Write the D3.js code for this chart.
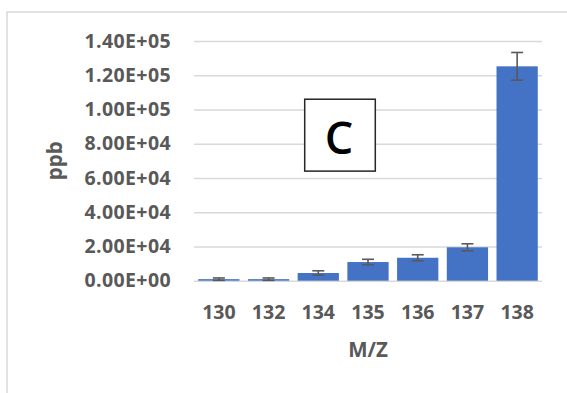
<!DOCTYPE html>
<html>
<head>
<meta charset="utf-8">
<script src="https://cdn.jsdelivr.net/npm/d3@7"></script>
<style>
  body { margin: 0; background: #fff; }
  text { font-family: "Open Sans", sans-serif; }
</style>
</head>
<body>
<div id="chart"></div>
<script>
var categories = ["130", "132", "134", "135", "136", "137", "138"];
var values = [900, 900, 4500, 10900, 13400, 19500, 125200];
var errors = [700, 700, 1300, 1600, 1750, 2050, 8100];
var yTicks = [0, 20000, 40000, 60000, 80000, 100000, 120000, 140000];
var panelLabel = "C";

var width = 567;
var height = 393;
var margin = {top: 41, right: 25, bottom: 112.3, left: 194};

var data = categories.map(function(c, i) {
  return {cat: c, value: values[i], err: errors[i]};
});

var xScale = d3.scaleBand()
  .domain(categories)
  .range([margin.left, width - margin.right])
  .paddingInner(0.17)
  .paddingOuter(0.085);

var yScale = d3.scaleLinear()
  .domain([0, 140000])
  .range([height - margin.bottom, margin.top]);

function sci(v) {
  if (v === 0) return "0.00E+00";
  var e = Math.floor(Math.log10(v));
  var m = v / Math.pow(10, e);
  return m.toFixed(2) + "E+" + (e < 10 ? "0" : "") + e;
}

var svg = d3.select("#chart")
  .append("svg")
    .attr("width", width)
    .attr("height", height);

// outer frame
svg.append("rect")
  .attr("x", 7)
  .attr("y", 12)
  .attr("width", 600)
  .attr("height", 420)
  .attr("fill", "none")
  .attr("stroke", "#d9d9d9")
  .attr("stroke-width", 1.5);

var yAxis = d3.axisLeft(yScale)
  .tickValues(yTicks)
  .tickFormat(sci)
  .tickSize(-(width - margin.left - margin.right))
  .tickPadding(23);

var gy = svg.append("g")
  .attr("transform", "translate(" + margin.left + ",0)")
  .call(yAxis);
gy.select(".domain").remove();
gy.selectAll(".tick line")
  .attr("stroke", "#d9d9d9")
  .attr("stroke-width", 1.4);
gy.selectAll(".tick text")
  .attr("fill", "#595959")
  .attr("font-size", 19.5)
  .attr("font-weight", 700)
  .attr("letter-spacing", 0.4);

var xAxis = d3.axisBottom(xScale).tickSize(0).tickPadding(24);
var gx = svg.append("g")
  .attr("transform", "translate(0," + yScale(0) + ")")
  .call(xAxis);
gx.select(".domain").remove();
gx.selectAll(".tick text")
  .attr("fill", "#595959")
  .attr("font-size", 19.5)
  .attr("font-weight", 700);

// bars
svg.append("g").selectAll("rect")
  .data(data)
  .enter().append("rect")
    .attr("x", function(d) { return xScale(d.cat); })
    .attr("y", function(d) { return yScale(d.value); })
    .attr("width", xScale.bandwidth())
    .attr("height", function(d) { return yScale(0) - yScale(d.value); })
    .attr("fill", "#4472c4");

// error bars
var eb = svg.append("g")
  .attr("stroke", "#595959")
  .attr("stroke-width", 1.6)
  .selectAll("g")
  .data(data)
  .enter().append("g")
    .attr("transform", function(d) { return "translate(" + (xScale(d.cat) + xScale.bandwidth() / 2) + ",0)"; });
eb.append("line")
  .attr("y1", function(d) { return yScale(d.value + d.err); })
  .attr("y2", function(d) { return yScale(Math.max(0, d.value - d.err)); });
eb.append("line")
  .attr("x1", -6).attr("x2", 6)
  .attr("y1", function(d) { return yScale(d.value + d.err); })
  .attr("y2", function(d) { return yScale(d.value + d.err); });
eb.append("line")
  .attr("x1", -6).attr("x2", 6)
  .attr("y1", function(d) { return yScale(Math.max(0, d.value - d.err)); })
  .attr("y2", function(d) { return yScale(Math.max(0, d.value - d.err)); });

// axis titles
svg.append("text")
  .attr("x", (margin.left + width - margin.right) / 2)
  .attr("y", 357)
  .attr("text-anchor", "middle")
  .attr("fill", "#595959")
  .attr("font-size", 20.5)
  .attr("font-weight", 700)
  .text("M/Z");

svg.append("text")
  .attr("transform", "translate(61.5," + (yScale(70000)) + ") rotate(-90)")
  .attr("text-anchor", "middle")
  .attr("fill", "#595959")
  .attr("font-size", 20.5)
  .attr("font-weight", 700)
  .text("ppb");

// panel label box
var bx = 304.7, by = yScale(106000), bw = 70.6, bh = yScale(64000) - yScale(106000);
svg.append("rect")
  .attr("x", bx).attr("y", by)
  .attr("width", bw).attr("height", bh)
  .attr("fill", "#fff")
  .attr("stroke", "#262626")
  .attr("stroke-width", 1.5);
svg.append("text")
  .attr("x", bx + bw / 2 - 1)
  .attr("y", 154)
  .attr("text-anchor", "middle")
  .attr("fill", "#000")
  .attr("font-size", 45)
  .attr("font-weight", 650)
  .text(panelLabel);
</script>
</body>
</html>
